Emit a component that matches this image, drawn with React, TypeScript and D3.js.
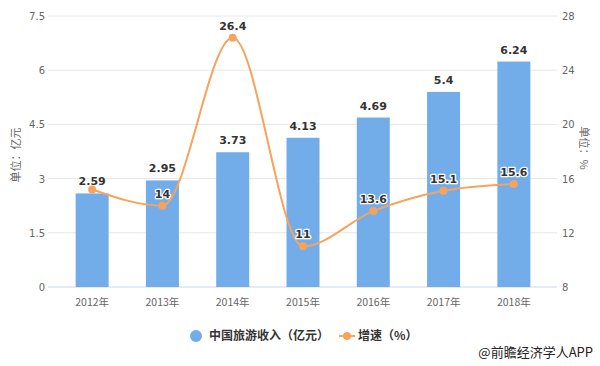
import React from 'react';
import * as d3 from 'd3';

const years = ['2012年', '2013年', '2014年', '2015年', '2016年', '2017年', '2018年'];
const revenue = [2.59, 2.95, 3.73, 4.13, 4.69, 5.4, 6.24];
const growth = [15.2, 14, 26.4, 11, 13.6, 15.1, 15.6];
const growthLabelShown = [false, true, true, true, true, true, true];
const leftTicks = [0, 1.5, 3, 4.5, 6, 7.5];
const rightTicks = [8, 12, 16, 20, 24, 28];

const W = 600;
const H = 366;
const PLOT = { left: 57, right: 549, top: 16, bottom: 287 };
const BAR_COLOR = '#72ade9';
const LINE_COLOR = '#f7a35c';
const FONT = '"DejaVu Sans", "Noto Sans CJK SC", sans-serif';
const CJK = '"Noto Sans CJK SC", "DejaVu Sans", sans-serif';

const App = () => {
  const x = d3.scaleBand().domain(years).range([PLOT.left, PLOT.right]);
  const yL = d3.scaleLinear().domain([0, 7.5]).range([PLOT.bottom, PLOT.top]);
  const yR = d3.scaleLinear().domain([8, 28]).range([PLOT.bottom, PLOT.top]);
  const barW = 33;
  const cx = (i: number) => (x(years[i]) ?? 0) + x.bandwidth() / 2;

  const line = d3
    .line<number>()
    .x((_, i) => cx(i))
    .y((d) => yR(d))
    .curve(d3.curveMonotoneX);

  const labelStyle = {
    fontFamily: FONT,
    fontSize: 11,
    fontWeight: 'bold' as const,
    fill: '#333',
    stroke: '#fff',
    strokeWidth: 2.5,
    paintOrder: 'stroke' as const,
    strokeLinejoin: 'round' as const,
  };

  return (
    <svg width={W} height={H} style={{ position: 'absolute', left: 0, top: 0 }}>
      <rect width={W} height={H} fill="#fff" />
      {leftTicks.map((t) => (
        <g key={t}>
          <line x1={48} x2={557} y1={yL(t)} y2={yL(t)} stroke={t === 0 ? '#ccd6eb' : '#e6e6e6'} />
          <text x={45} y={yL(t) + 4} textAnchor="end" fontFamily={FONT} fontSize={10} fill="#666">
            {t}
          </text>
        </g>
      ))}
      {rightTicks.map((t) => (
        <text key={t} x={562} y={yR(t) + 4} fontFamily={FONT} fontSize={10} fill="#666">
          {t}
        </text>
      ))}
      <text
        transform={`translate(20,155) rotate(-90)`}
        textAnchor="middle"
        fontFamily={CJK}
        fontSize={11}
        fill="#666"
      >
        单位：亿元
      </text>
      <text
        transform={`translate(580,148) rotate(90)`}
        textAnchor="middle"
        fontFamily={CJK}
        fontSize={11}
        fill="#666"
      >
        单位：%
      </text>
      {years.map((y, i) => (
        <text key={y} x={cx(i)} y={306} textAnchor="middle" fontFamily={CJK} fontSize={10.5} fill="#666">
          {y}
        </text>
      ))}
      {revenue.map((v, i) => (
        <rect
          key={i}
          x={cx(i) - barW / 2}
          width={barW}
          y={yL(v)}
          height={PLOT.bottom - yL(v)}
          fill={BAR_COLOR}
        />
      ))}
      {revenue.map((v, i) => (
        <text key={i} x={cx(i)} y={yL(v) - 8} textAnchor="middle" {...labelStyle}>
          {v}
        </text>
      ))}
      <path d={line(growth) ?? ''} fill="none" stroke={LINE_COLOR} strokeWidth={2} />
      {growth.map((v, i) => (
        <circle key={i} cx={cx(i)} cy={yR(v)} r={4} fill={LINE_COLOR} />
      ))}
      {growth.map((v, i) =>
        growthLabelShown[i] ? (
          <text key={i} x={cx(i)} y={yR(v) - 8} textAnchor="middle" {...labelStyle}>
            {v}
          </text>
        ) : null
      )}
      {/* legend */}
      <circle cx={196} cy={336} r={6} fill={BAR_COLOR} />
      <text x={209} y={340} fontFamily={CJK} fontSize={12} fontWeight="bold" fill="#333">
        中国旅游收入（亿元）
      </text>
      <line x1={339} x2={355} y1={336} y2={336} stroke={LINE_COLOR} strokeWidth={2} />
      <circle cx={347} cy={336} r={4} fill={LINE_COLOR} />
      <text x={358} y={340} fontFamily={CJK} fontSize={12} fontWeight="bold" fill="#333">
        增速（%）
      </text>
      <text x={593} y={357} textAnchor="end" fontFamily={CJK} fontSize={13} fill="#222">
        @前瞻经济学人APP
      </text>
    </svg>
  );
};

export default App;
